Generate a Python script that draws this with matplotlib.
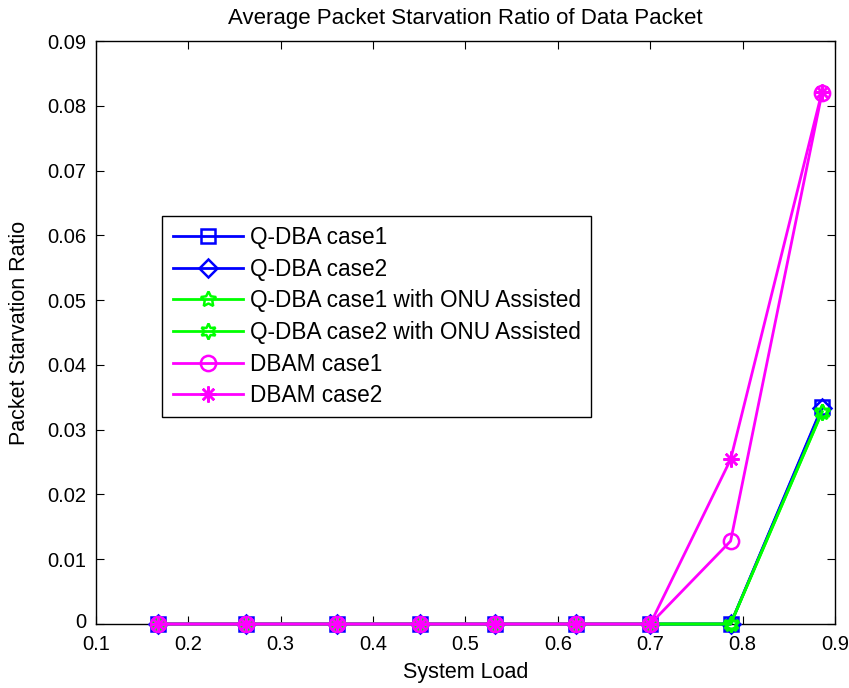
import matplotlib
matplotlib.use("Agg")
import matplotlib.pyplot as plt
import matplotlib.transforms as mtransforms
from matplotlib.ticker import FixedLocator

plt.rcParams['font.family'] = ['Liberation Sans', 'DejaVu Sans']

# system load points
load = [0.167, 0.262, 0.361, 0.451, 0.532, 0.620, 0.700, 0.787, 0.886]

# starvation ratio per scheme
qdba_case1 = [0, 0, 0, 0, 0, 0, 0, 0, 0.0335]
qdba_case2 = [0, 0, 0, 0, 0, 0, 0, 0, 0.0333]
qdba_case1_onu = [0, 0, 0, 0, 0, 0, 0, 0, 0.0328]
qdba_case2_onu = [0, 0, 0, 0, 0, 0, 0, 0, 0.0327]
dbam_case1 = [0, 0, 0, 0, 0, 0, 0, 0.0128, 0.0820]
dbam_case2 = [0, 0, 0, 0, 0, 0, 0, 0.0254, 0.0822]

labels = ['Q-DBA case1', 'Q-DBA case2', 'Q-DBA case1 with ONU Assisted',
          'Q-DBA case2 with ONU Assisted', 'DBAM case1', 'DBAM case2']
x_ticks = [0.1, 0.2, 0.3, 0.4, 0.5, 0.6, 0.7, 0.8, 0.9]
y_ticks = [0, 0.01, 0.02, 0.03, 0.04, 0.05, 0.06, 0.07, 0.08, 0.09]

series = [qdba_case1, qdba_case2, qdba_case1_onu, qdba_case2_onu, dbam_case1, dbam_case2]
colors = ['#0000ff', '#0000ff', '#00ff00', '#00ff00', '#ff00ff', '#ff00ff']
markers = ['s', 'D', (5, 1, 0), (6, 1, 0), 'o', (8, 2, 0)]
msizes = [10, 9, 11.5, 11.5, 11, 11.5]

fig = plt.figure(figsize=(8.49, 6.88), dpi=100)
ax = fig.add_axes([0.113, 0.093, 0.8705, 0.8474])

for vals, lab, c, m, ms in zip(series, labels, colors, markers, msizes):
    ax.plot(load, vals, color=c, marker=m, markersize=ms, markerfacecolor='none',
            markeredgecolor=c, markeredgewidth=1.8, linewidth=2, label=lab,
            clip_on=False, zorder=3)

ax.set_xlim(0.1, 0.9)
ax.set_ylim(0, 0.09)
ax.xaxis.set_major_locator(FixedLocator(x_ticks))
ax.yaxis.set_major_locator(FixedLocator(y_ticks))
ax.set_xticklabels(['%g' % t for t in x_ticks])
ax.set_yticklabels(['%g' % t for t in y_ticks])
ax.tick_params(direction='in', top=True, right=True, length=6, width=0.8,
               labelsize=14.5, pad=7)
ax.tick_params(axis='x', pad=8)
for sp in ax.spines.values():
    sp.set_linewidth(1)

# nudge the "0" label up a few pixels so it sits just above the "0.1"
zero_lbl = ax.get_yticklabels()[0]
zero_lbl.set_transform(zero_lbl.get_transform() +
                       mtransforms.ScaledTranslation(0, 4 / 100, fig.dpi_scale_trans))

ax.set_xlabel('System Load', fontsize=15.5, labelpad=6)
ax.set_ylabel('Packet Starvation Ratio', fontsize=15.5, labelpad=12)
ax.set_title('Average Packet Starvation Ratio of Data Packet', fontsize=16, pad=12)

leg = ax.legend(loc='upper left', bbox_to_anchor=(0.09, 0.70), fontsize=16.3,
                handlelength=3.1, labelspacing=0.38, handletextpad=0.3,
                borderpad=0.45, borderaxespad=0, fancybox=False,
                edgecolor='black', framealpha=1)
leg.get_frame().set_linewidth(1)
leg.set_zorder(5)

fig.savefig('out.png', dpi=100)
